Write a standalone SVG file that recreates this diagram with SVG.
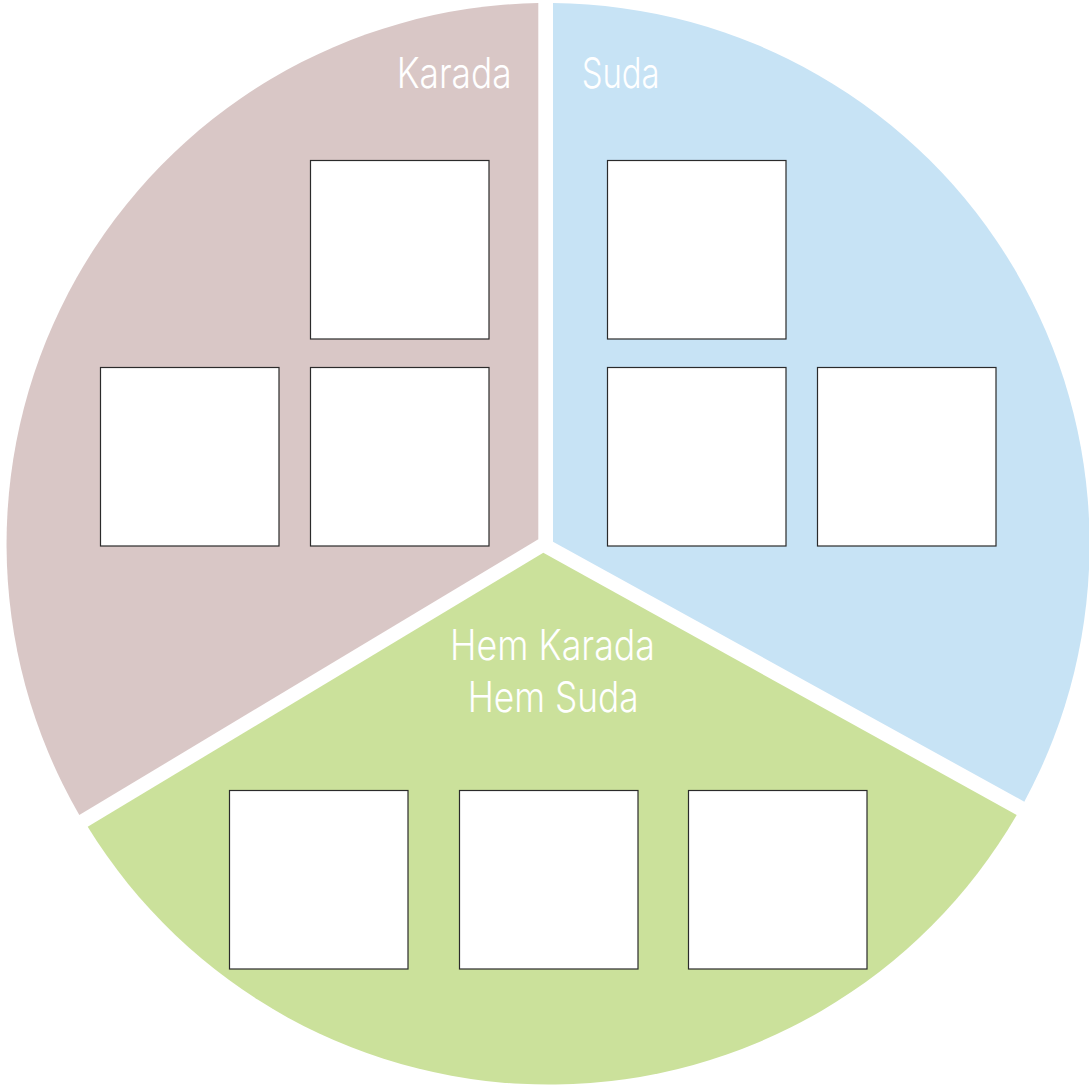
<svg xmlns="http://www.w3.org/2000/svg" width="1089" height="1089" viewBox="0 0 1089 1089">
<style>
.box{fill:#ffffff;stroke:#2b2b2b;stroke-width:1.2}
.lbl{font-family:Inter,"Open Sans","DejaVu Sans",sans-serif;font-weight:300;font-size:42px;fill:#ffffff}
</style>
<rect width="1089" height="1089" fill="#ffffff"/>
<g id="sector-karada">
<path d="M538.3,539.3 L538.3,3.1 A541 541 0 0 0 79.3,815 Z" fill="#d9c7c6"/>
<text class="lbl" x="396.7" y="87.5" textLength="115" lengthAdjust="spacingAndGlyphs">Karada</text>
</g>
<g id="sector-suda">
<path d="M553,541.7 L553,3.1 A541 541 0 0 1 1024.3,801.7 Z" fill="#c7e3f5"/>
<text class="lbl" x="581.7" y="87.5" textLength="78" lengthAdjust="spacingAndGlyphs">Suda</text>
</g>
<g id="sector-hem">
<path d="M543.3,552.7 L1016.7,815 A541 541 0 0 1 87.7,826.7 Z" fill="#cbe19b"/>
<text class="lbl" x="450" y="660" textLength="205" lengthAdjust="spacingAndGlyphs">Hem Karada</text>
<text class="lbl" x="467.7" y="712" textLength="171" lengthAdjust="spacingAndGlyphs">Hem Suda</text>
</g>
<g id="karada-box-1"><rect class="box" x="310.5" y="160.5" width="178.5" height="178.5"/></g>
<g id="karada-box-2"><rect class="box" x="100.5" y="367.5" width="178.5" height="178.5"/></g>
<g id="karada-box-3"><rect class="box" x="310.5" y="367.5" width="178.5" height="178.5"/></g>
<g id="suda-box-1"><rect class="box" x="607.5" y="160.5" width="178.5" height="178.5"/></g>
<g id="suda-box-2"><rect class="box" x="607.5" y="367.5" width="178.5" height="178.5"/></g>
<g id="suda-box-3"><rect class="box" x="817.5" y="367.5" width="178.5" height="178.5"/></g>
<g id="hem-box-1"><rect class="box" x="229.5" y="790.5" width="178.5" height="178.5"/></g>
<g id="hem-box-2"><rect class="box" x="459.5" y="790.5" width="178.5" height="178.5"/></g>
<g id="hem-box-3"><rect class="box" x="688.5" y="790.5" width="178.5" height="178.5"/></g>
<g id="connectors"></g>
</svg>
